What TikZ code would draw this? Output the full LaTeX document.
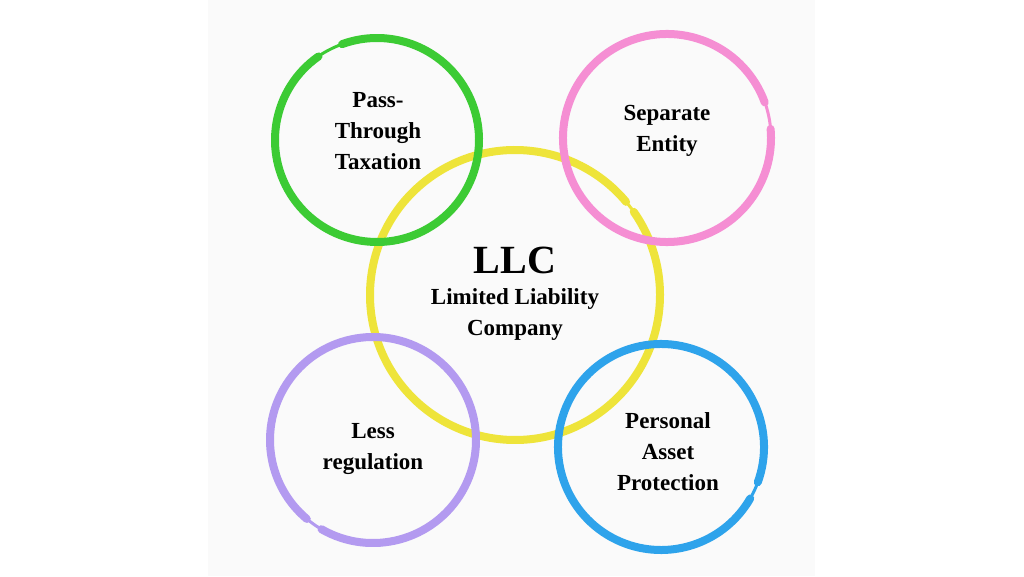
\documentclass[tikz,border=0pt]{standalone}
\usepackage{fontspec}
\setmainfont{Liberation Serif}
\begin{document}
\begin{tikzpicture}[x=1pt,y=1pt,
  lab/.style={font=\bfseries\fontsize{23}{31}\selectfont,align=center,text=black},
  ring/.style={line width=8,line cap=round},
  tail/.style={line width=3,line cap=round}]
\useasboundingbox (0,0) rectangle (1024,576);
\fill[white] (0,0) rectangle (1024,576);
\fill[black!2] (208,0) rectangle (815,576);
\definecolor{cg}{HTML}{3CCB34}
\definecolor{cp}{HTML}{F58ED3}
\definecolor{cy}{HTML}{EEE43A}
\definecolor{cv}{HTML}{B39AF0}
\definecolor{cb}{HTML}{2EA3EB}
% yellow
\coordinate (Y) at (515,281);
\draw[ring,cy] (Y) ++(40:145) arc(40:395:145);
\draw[tail,cy] (Y) ++(35:145) arc(35:60:150);
% green
\coordinate (G) at (377,436);
\draw[ring,cg] (G) ++(125:102) arc(125:470:102);
\draw[tail,cg] (G) ++(110:102) arc(110:140:108);
% pink
\coordinate (P) at (667,438);
\draw[ring,cp] (P) ++(20:104) arc(20:365:104);
\draw[tail,cp] (P) ++(5:104) arc(5:30:110);
% purple
\coordinate (V) at (373,136);
\draw[ring,cv] (V) ++(240:103) arc(240:590:103);
\draw[tail,cv] (V) ++(230:103) arc(230:260:108);
% blue
\coordinate (B) at (661,129);
\draw[ring,cb] (B) ++(-20:103) arc(-20:330:103);
\draw[tail,cb] (B) ++(-30:103) arc(-30:-5:109);
% labels
\node[lab] (gt) at (378,445) {Pass-\\Through\\Taxation};
\node[lab] (pt) at (667,445) {Separate\\Entity};
\node[lab] (yt) at (515,282) {\fontsize{40}{44}\selectfont LLC\\\fontsize{23}{31}\selectfont Limited Liability\\Company};
\node[lab] (vt) at (373,127) {Less\\regulation};
\node[lab] (bt) at (668,124) {Personal\\Asset\\Protection};
\end{tikzpicture}
\end{document}
